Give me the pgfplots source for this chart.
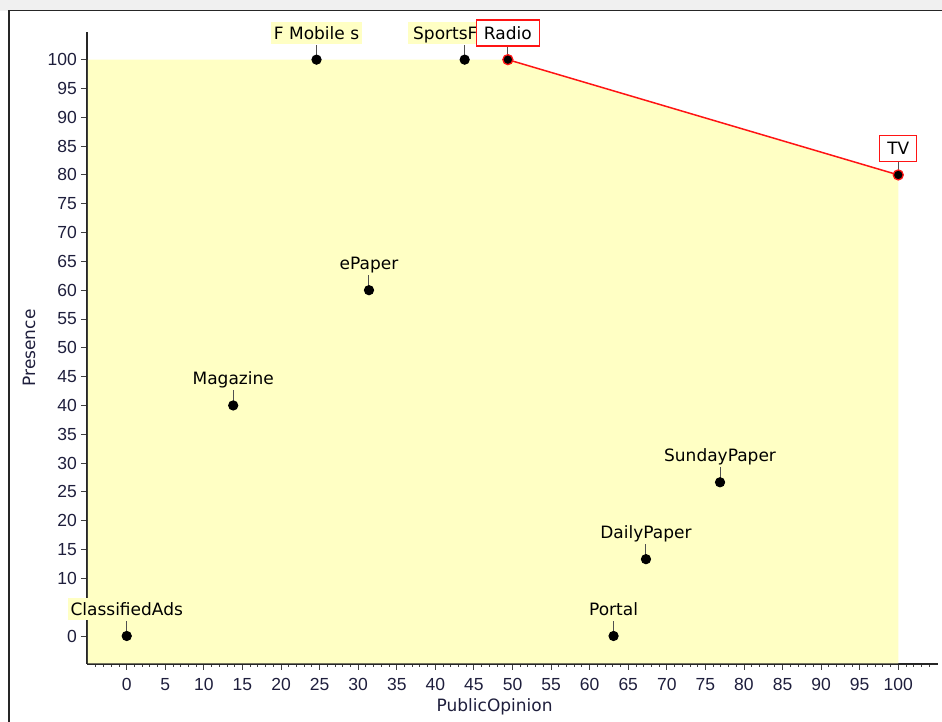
\documentclass[border=0pt]{standalone}
\usepackage{pgfplots}
\pgfplotsset{compat=1.18}
\usepackage{fontspec}
\setmainfont{DejaVu Sans}
\newfontfamily\tickfam{Liberation Sans}

\definecolor{areafill}{HTML}{FFFFC4}
\definecolor{frontier}{HTML}{FF1414}
\definecolor{pinline}{HTML}{505050}
\definecolor{titlecol}{HTML}{1E1E3C}

\newcommand{\lblfont}{\fontsize{17}{20}\selectfont}
\newcommand{\tickfont}{\tickfam\fontsize{17.5}{20}\selectfont}

% black dot with a short leader line up to its label
\pgfdeclareplotmark{pinned}{%
  \pgfsetlinewidth{1pt}\pgfsetstrokecolor{pinline}%
  \pgfpathmoveto{\pgfqpoint{0pt}{0pt}}\pgfpathlineto{\pgfqpoint{0pt}{15pt}}\pgfusepathqstroke
  \pgfsetstrokecolor{black}\pgfsetfillcolor{black}%
  \pgfpathcircle{\pgfpointorigin}{4.6pt}\pgfusepathqfillstroke}
% frontier points: black dot with red ring
\pgfdeclareplotmark{pinnedred}{%
  \pgfsetlinewidth{1pt}\pgfsetstrokecolor{pinline}%
  \pgfpathmoveto{\pgfqpoint{0pt}{0pt}}\pgfpathlineto{\pgfqpoint{0pt}{13pt}}\pgfusepathqstroke
  \pgfsetlinewidth{1.3pt}\pgfsetstrokecolor{frontier}\pgfsetfillcolor{black}%
  \pgfpathcircle{\pgfpointorigin}{5pt}\pgfusepathqfillstroke}

\begin{document}
\begin{tikzpicture}
\useasboundingbox (-87pt,-58pt) rectangle (855pt,664pt);
\fill[gray!12] (-87pt,653pt) rectangle (855pt,664pt);
\draw[line width=1.5pt, black!85] (-78pt,-62pt) -- (-78pt,653.3pt) -- (860pt,653.3pt);
\begin{axis}[
  at={(0pt,0pt)}, anchor=south west,
  scale only axis, width=851pt, height=632pt,
  xmin=-5.15, xmax=105.15, ymin=-4.86, ymax=104.8,
  axis x line=bottom, axis y line=left,
  axis line style={-, line width=1.4pt, black!85},
  clip=false,
  xtick={0,5,...,100}, minor xtick={-4,-3,...,104},
  ytick={0,10,15,...,100},
  tick align=outside, major tick length=6pt, minor tick length=3pt,
  tick style={black!75, line width=0.9pt},
  /pgf/number format/assume math mode=true,
  ticklabel style={font=\tickfont, text=titlecol, inner sep=0pt},
  xticklabel style={yshift=-8pt},
  yticklabel style={xshift=-4pt},
  xlabel={PublicOpinion}, ylabel={Presence},
  xlabel style={at={(axis description cs:0.479,0)}, anchor=center, yshift=-43pt,
    font=\lblfont, text=titlecol},
  ylabel style={at={(axis description cs:-0.068,0.5)}, anchor=center,
    font=\lblfont, text=titlecol},
]
% region dominated by the frontier
\addplot[fill=areafill, draw=none] coordinates {
  (-5.05,-4.74) (-5.05,100) (49.4,100) (100,80) (100,-4.74)} -- cycle;

% frontier
\addplot[frontier, line width=1.5pt, mark=none] coordinates {(49.4,100) (100,80)};

% media channels
\addplot[only marks, mark=pinned, point meta=explicit symbolic,
  nodes near coords,
  nodes near coords style={anchor=south, yshift=15pt, fill=areafill, text=black,
    inner xsep=2.5pt, inner ysep=4pt, text height=13pt, text depth=1pt, font=\lblfont}]
  coordinates {
  (0,0) [ClassifiedAds]
  (13.8,40) [Magazine]
  (24.6,100) [F Mobile s]
  (31.4,60) [ePaper]
  (63.1,0) [Portal]
  (67.3,13.33) [DailyPaper]
  (76.9,26.67) [SundayPaper]
};

\addplot[only marks, mark=pinned, point meta=explicit symbolic,
  nodes near coords,
  nodes near coords style={anchor=south west, xshift=-57pt, yshift=15pt, fill=areafill, text=black,
    inner xsep=5pt, inner ysep=4pt, text height=13pt, text depth=1pt, font=\lblfont}]
  coordinates {(43.8,100) [SportsF]};

% frontier channels
\addplot[only marks, mark=pinnedred, point meta=explicit symbolic,
  nodes near coords,
  nodes near coords style={anchor=south, yshift=13pt, fill=white, draw=frontier, line width=1.2pt,
    text=black, inner xsep=7.5pt, inner ysep=6pt, text height=13pt, text depth=1pt, font=\lblfont}]
  coordinates {(49.4,100) [Radio] (100,80) [TV]};
\end{axis}
\end{tikzpicture}
\end{document}
